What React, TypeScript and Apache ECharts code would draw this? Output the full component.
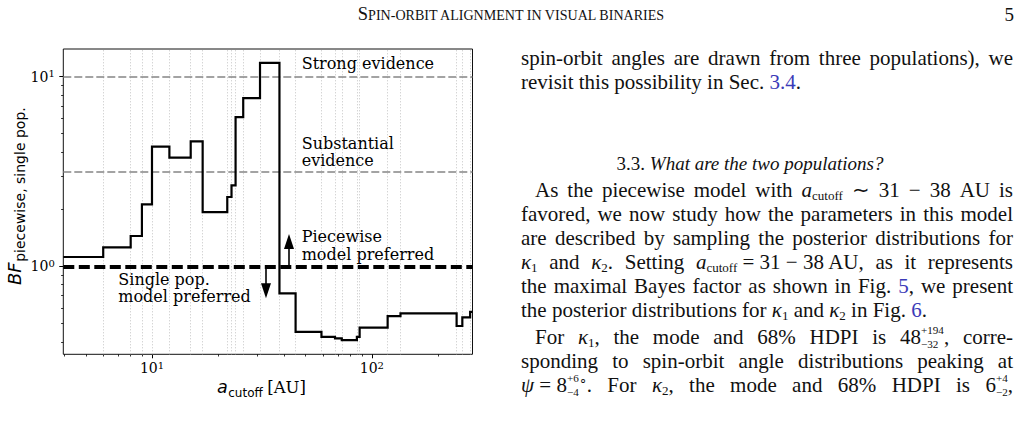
import React, { useEffect, useRef } from "react";
import * as echarts from "echarts";

const W = 1026;
const H = 424;

// ---------------- data ----------------
const cutoffAU = [3.95, 6, 8, 9, 10, 12, 15, 17, 22, 23, 24, 26, 31, 38, 45, 59, 68, 73, 85.5, 88, 118, 135, 243, 258, 280, 287];
const bayesFactor = [1.12, 1.26, 1.445, 2.12, 4.27, 3.74, 4.56, 1.93, 2.32, 2.67, 6.11, 7.69, 11.8, 0.72, 0.452, 0.425, 0.417, 0.409, 0.425, 0.475, 0.547, 0.565, 0.485, 0.538, 0.576, 0.576];
const gridCutoffs = [6, 8, 9, 10, 12, 15, 17, 22, 23, 24, 26, 31, 38, 45, 59, 68, 73, 85.5, 88, 118, 135, 243, 258, 280];
const xRange = [3.95, 287];
const yRange = [0.344, 13.97];
const xMajorTicks = [10, 100];
const xMinorTicks = [4, 5, 6, 7, 8, 9, 20, 30, 40, 50, 60, 70, 80, 90, 200];
const yMajorTicks = [1, 10];
const yMinorTicks = [0.4, 0.5, 0.6, 0.7, 0.8, 0.9, 2, 3, 4, 5, 6, 7, 8, 9];
const evidenceLevels = [10, 3.1623];
const neutralLevel = 1;
const arrowCutoffs = [33, 42];
const arrowEnds = [0.743, 1.351];

const strongLabel = ["Strong evidence"];
const substantialLabel = ["Substantial", "evidence"];
const piecewiseLabel = ["Piecewise", "model preferred"];
const singleLabel = ["Single pop.", "model preferred"];

const headerText = "{cap|S}{sc|PIN-ORBIT ALIGNMENT IN VISUAL BINARIES}";
const pageNumber = "5";
const paperLines = [
  "spin-orbit angles are drawn from three populations), we",
  "revisit this possibility in Sec. {b|3.4}.",
  "3.3. {it|What are the two populations?}",
  "As the piecewise model with {m|a}{sub|cutoff} ∼ 31 − 38 AU is",
  "favored, we now study how the parameters in this model",
  "are described by sampling the posterior distributions for",
  "{m|κ}{sub|1} and {m|κ}{sub|2}. Setting {m|a}{sub|cutoff}\u00a0=\u00a031\u00a0−\u00a038\u2009AU, as it represents",
  "the maximal Bayes factor as shown in Fig. {b|5}, we present",
  "the posterior distributions for {m|κ}{sub|1} and {m|κ}{sub|2} in Fig. {b|6}.",
  "For {m|κ}{sub|1}, the mode and 68% HDPI is 48{st|+194|−32}, corre-",
  "sponding to spin-orbit angle distributions peaking at",
  "{m|ψ}\u00a0=\u00a08{st|+6|−4}{sup|∘}. For {m|κ}{sub|2}, the mode and 68% HDPI is 6{st|+4|−2},",
];

// ---------------- layout helpers ----------------
const SERIF = "Liberation Serif, serif";
const DJS = "DejaVu Serif, serif";
const DJSANS = "DejaVu Sans, sans-serif";
const INK = "#111111";
const LINK = "#3b3bb8";
const K = 0.335;

let ctx: CanvasRenderingContext2D | null = null;
function measure(text: string, size: number, family: string, italic = false) {
  if (!ctx) ctx = document.createElement("canvas").getContext("2d");
  ctx!.font = `${italic ? "italic " : ""}${size}px ${family}`;
  return ctx!.measureText(text).width;
}

function txt(x: number, y: number, text: string, size: number, family: string, opt: any = {}) {
  return {
    type: "text",
    x,
    y,
    silent: true,
    z: 100,
    style: {
      text,
      fontSize: size,
      fontFamily: family,
      fontStyle: opt.italic ? "italic" : "normal",
      fill: opt.color || INK,
      textAlign: opt.align || "left",
      align: opt.align || "left",
      textVerticalAlign: "middle",
      verticalAlign: "middle",
    },
  };
}

type Seg = { kind: string; a: string; b?: string };
function parseWord(w: string): Seg[] {
  const out: Seg[] = [];
  const re = /\{(\w+)\|([^}]*)\}|([^{]+)/g;
  let m: RegExpExecArray | null;
  while ((m = re.exec(w))) {
    if (m[3] !== undefined) out.push({ kind: "rm", a: m[3] });
    else if (m[1] === "st") {
      const [a, b] = m[2].split("|");
      out.push({ kind: "st", a, b });
    } else out.push({ kind: m[1], a: m[2] });
  }
  return out;
}

const SCR = 0.62;
const STK = 0.53;
function segInfo(kind: string, PS: number) {
  switch (kind) {
    case "it":
    case "m":
      return { size: PS, italic: true, color: INK, dy: 0 };
    case "b":
      return { size: PS, italic: false, color: LINK, dy: 0 };
    case "sub":
      return { size: PS * SCR, italic: false, color: INK, dy: PS * 0.12 };
    case "sup":
      return { size: PS * SCR, italic: false, color: INK, dy: -PS * 0.4 };
    case "cap":
      return { size: PS, italic: false, color: INK, dy: 0 };
    case "sc":
      return { size: PS * 0.76, italic: false, color: INK, dy: 0 };
    default:
      return { size: PS, italic: false, color: INK, dy: 0 };
  }
}

function segWidth(s: Seg, PS: number, fam: string) {
  if (s.kind === "st") {
    const sz = PS * STK;
    return Math.max(measure(s.a, sz, fam), measure(s.b || "", sz, fam));
  }
  const i = segInfo(s.kind, PS);
  return measure(s.a, i.size, fam, i.italic);
}

function emitSeg(s: Seg, x: number, yc: number, PS: number, fam: string, out: any[]) {
  const base = yc + K * PS;
  if (s.kind === "st") {
    const sz = PS * STK;
    const half = sz * 0.56;
    out.push(txt(x, yc - half - 0.5, s.a, sz, fam));
    out.push(txt(x, yc + half + 0.5, s.b || "", sz, fam));
    return;
  }
  const i = segInfo(s.kind, PS);
  out.push(txt(x, base + i.dy - K * i.size, s.a, i.size, fam, { italic: i.italic, color: i.color }));
}

function layoutLine(line: string, mode: string, x0: number, x1: number, yc: number, PS: number, fam: string, indent: number, out: any[], cx0?: number) {
  const words = mode === "j" ? line.split(" ").map(parseWord) : [parseWord(line)];
  const widths = words.map((w) => w.reduce((s, g) => s + segWidth(g, PS, fam), 0));
  const sum = widths.reduce((a, b) => a + b, 0);
  const start = x0 + indent;
  let gap = measure(" ", PS, fam);
  let x = start;
  if (mode === "j" && words.length > 1) gap = (x1 - start - sum) / (words.length - 1);
  if (mode === "c") x = (cx0 !== undefined ? cx0 : (x0 + x1) / 2) - sum / 2;
  if (mode === "r") x = x1 - sum;
  words.forEach((w, wi) => {
    let cx = x;
    w.forEach((g) => {
      emitSeg(g, cx, yc, PS, fam, out);
      cx += segWidth(g, PS, fam);
    });
    x += widths[wi] + gap;
  });
}

function buildOption() {
  const lg = Math.log10;
  const g: any[] = [];

  // header
  layoutLine(headerText, "c", 318, 718, 14, 18.5, SERIF, 0, g, 512);
  g.push(txt(1014, 14, pageNumber, 19, SERIF, { align: "right" }));

  // paper column
  const PX0 = 521;
  const PX1 = 1013;
  const PS = 21;
  const rows = [
    { y: 58, mode: "j", indent: 0, size: PS },
    { y: 82, mode: "l", indent: 0, size: PS },
    { y: 163, mode: "c", indent: 0, size: 19 },
    { y: 190, mode: "j", indent: 14, size: PS },
    { y: 214, mode: "j", indent: 0, size: PS },
    { y: 238, mode: "j", indent: 0, size: PS },
    { y: 262, mode: "j", indent: 0, size: PS },
    { y: 286, mode: "j", indent: 0, size: PS },
    { y: 310, mode: "l", indent: 0, size: PS },
    { y: 337, mode: "j", indent: 14, size: PS },
    { y: 361, mode: "j", indent: 0, size: PS },
    { y: 385, mode: "j", indent: 0, size: PS },
  ];
  paperLines.forEach((line, i) =>
    layoutLine(line, rows[i].mode, PX0, PX1, rows[i].y, rows[i].size, SERIF, rows[i].indent, g, rows[i].mode === "c" ? 750 : undefined)
  );

  // annotations in plot
  const AS = 16;
  const put = (lines: string[], x: number, y: number) =>
    lines.forEach((l, i) => g.push(txt(x, y + i * 17.6, l, AS, DJS, { color: "#000" })));
  put(strongLabel, 301.7, 63.3);
  put(substantialLabel, 301.7, 143.3);
  put(piecewiseLabel, 301.7, 236.7);
  put(singleLabel, 118.3, 279);

  // y axis name (rotated)
  const bfSize = 18;
  const subSize = 14;
  const wBF = measure("BF", bfSize, DJSANS, true);
  g.push({
    type: "group",
    x: 20.5,
    y: 285,
    rotation: Math.PI / 2,
    z: 100,
    children: [
      { ...txt(0, -K * bfSize, "BF", bfSize, DJSANS, { italic: true, color: "#000" }) },
      { ...txt(wBF + 0.5, 4 - K * subSize, "piecewise, single pop.", subSize, DJSANS, { color: "#000" }) },
    ],
  });

  // x axis name
  const aSize = 17.5;
  const xb = 393;
  const wa = measure("a", aSize, DJSANS, true);
  const wc = measure("cutoff", 12, DJSANS);
  g.push(txt(217, xb - K * aSize, "a", aSize, DJSANS, { italic: true, color: "#000" }));
  g.push(txt(217 + wa + 0.5, xb + 4 - K * 12, "cutoff", 12, DJSANS, { color: "#000" }));
  g.push(txt(217 + wa + wc + 5, xb - K * 16.5, "[AU]", 16.5, DJS, { color: "#000" }));

  const rich = {
    b: { fontFamily: DJS, fontSize: 14, color: "#000", lineHeight: 16 },
    s: { fontFamily: DJS, fontSize: 10, color: "#000", verticalAlign: "top", lineHeight: 7 },
  };
  const supFmt = (v: number) => `{b|10}{s|${Math.round(v)}}`;
  const hidden = { show: false, onZero: false };

  return {
    animation: false,
    backgroundColor: "#fff",
    grid: {
      left: 63.3,
      top: 49,
      right: W - 472.5,
      bottom: H - 354.3,
      show: true,
      borderColor: "#111",
      borderWidth: 1,
    },
    xAxis: [
      { type: "log", logBase: 10, min: xRange[0], max: xRange[1], show: false, axisLine: hidden },
      {
        type: "value",
        position: "bottom",
        min: lg(xRange[0]),
        max: lg(xRange[1]),
        axisLine: hidden,
        splitLine: { show: false },
        axisTick: { show: true, customValues: xMajorTicks.map(lg), length: 4, lineStyle: { color: "#000", width: 1 } },
        axisLabel: { show: true, customValues: xMajorTicks.map(lg), formatter: supFmt, rich, margin: 6 },
      },
      {
        type: "value",
        position: "bottom",
        min: lg(xRange[0]),
        max: lg(xRange[1]),
        axisLine: hidden,
        splitLine: { show: false },
        axisTick: { show: true, customValues: xMinorTicks.map(lg), length: 2.2, lineStyle: { color: "#000", width: 0.8 } },
        axisLabel: { show: false },
      },
    ],
    yAxis: [
      { type: "log", logBase: 10, min: yRange[0], max: yRange[1], show: false, axisLine: hidden },
      {
        type: "value",
        position: "left",
        min: lg(yRange[0]),
        max: lg(yRange[1]),
        axisLine: hidden,
        splitLine: { show: false },
        axisTick: { show: true, customValues: yMajorTicks.map(lg), length: 4, lineStyle: { color: "#000", width: 1 } },
        axisLabel: { show: true, customValues: yMajorTicks.map(lg), formatter: supFmt, rich, margin: 8.5 },
      },
      {
        type: "value",
        position: "left",
        min: lg(yRange[0]),
        max: lg(yRange[1]),
        axisLine: hidden,
        splitLine: { show: false },
        axisTick: { show: true, customValues: yMinorTicks.map(lg), length: 2.2, lineStyle: { color: "#000", width: 0.8 } },
        axisLabel: { show: false },
      },
    ],
    series: [
      {
        type: "line",
        xAxisIndex: 0,
        yAxisIndex: 0,
        data: [],
        silent: true,
        markLine: {
          silent: true,
          symbol: "none",
          label: { show: false },
          lineStyle: { color: "#c4c4c4", type: [1, 2], width: 1 },
          data: gridCutoffs.map((v) => ({ xAxis: v })),
        },
      },
      {
        type: "line",
        xAxisIndex: 0,
        yAxisIndex: 0,
        data: [],
        silent: true,
        markLine: {
          silent: true,
          symbol: "none",
          label: { show: false },
          data: [
            ...evidenceLevels.map((v) => ({ yAxis: v, lineStyle: { color: "#858585", type: [8, 3], width: 1.6 } })),
            { yAxis: neutralLevel, lineStyle: { color: "#000", type: [11, 4.5], width: 4 } },
          ],
        },
      },
      {
        type: "line",
        xAxisIndex: 0,
        yAxisIndex: 0,
        step: "end",
        z: 10,
        silent: true,
        showSymbol: false,
        symbol: "none",
        lineStyle: { color: "#000", width: 2.2, join: "miter" },
        data: cutoffAU.map((x, i) => [x, bayesFactor[i]]),
      },
      {
        type: "line",
        xAxisIndex: 0,
        yAxisIndex: 0,
        data: [],
        silent: true,
        markLine: {
          silent: true,
          symbol: ["none", "triangle"],
          symbolSize: [10, 15],
          label: { show: false },
          lineStyle: { color: "#000", width: 1.6, type: "solid" },
          data: arrowCutoffs.map((x, i) => [{ coord: [x, neutralLevel] }, { coord: [x, arrowEnds[i]] }]),
        },
      },
    ],
    graphic: g,
  };
}

export default function App() {
  const ref = useRef<HTMLDivElement>(null);
  useEffect(() => {
    const el = ref.current;
    if (!el) return;
    const chart = echarts.init(el, null, { renderer: "svg", width: W, height: H });
    chart.setOption(buildOption() as any);
    return () => chart.dispose();
  }, []);
  return (
    <div
      ref={ref}
      style={{ position: "fixed", left: 0, top: 0, width: W, height: H, background: "#fff" }}
    />
  );
}
